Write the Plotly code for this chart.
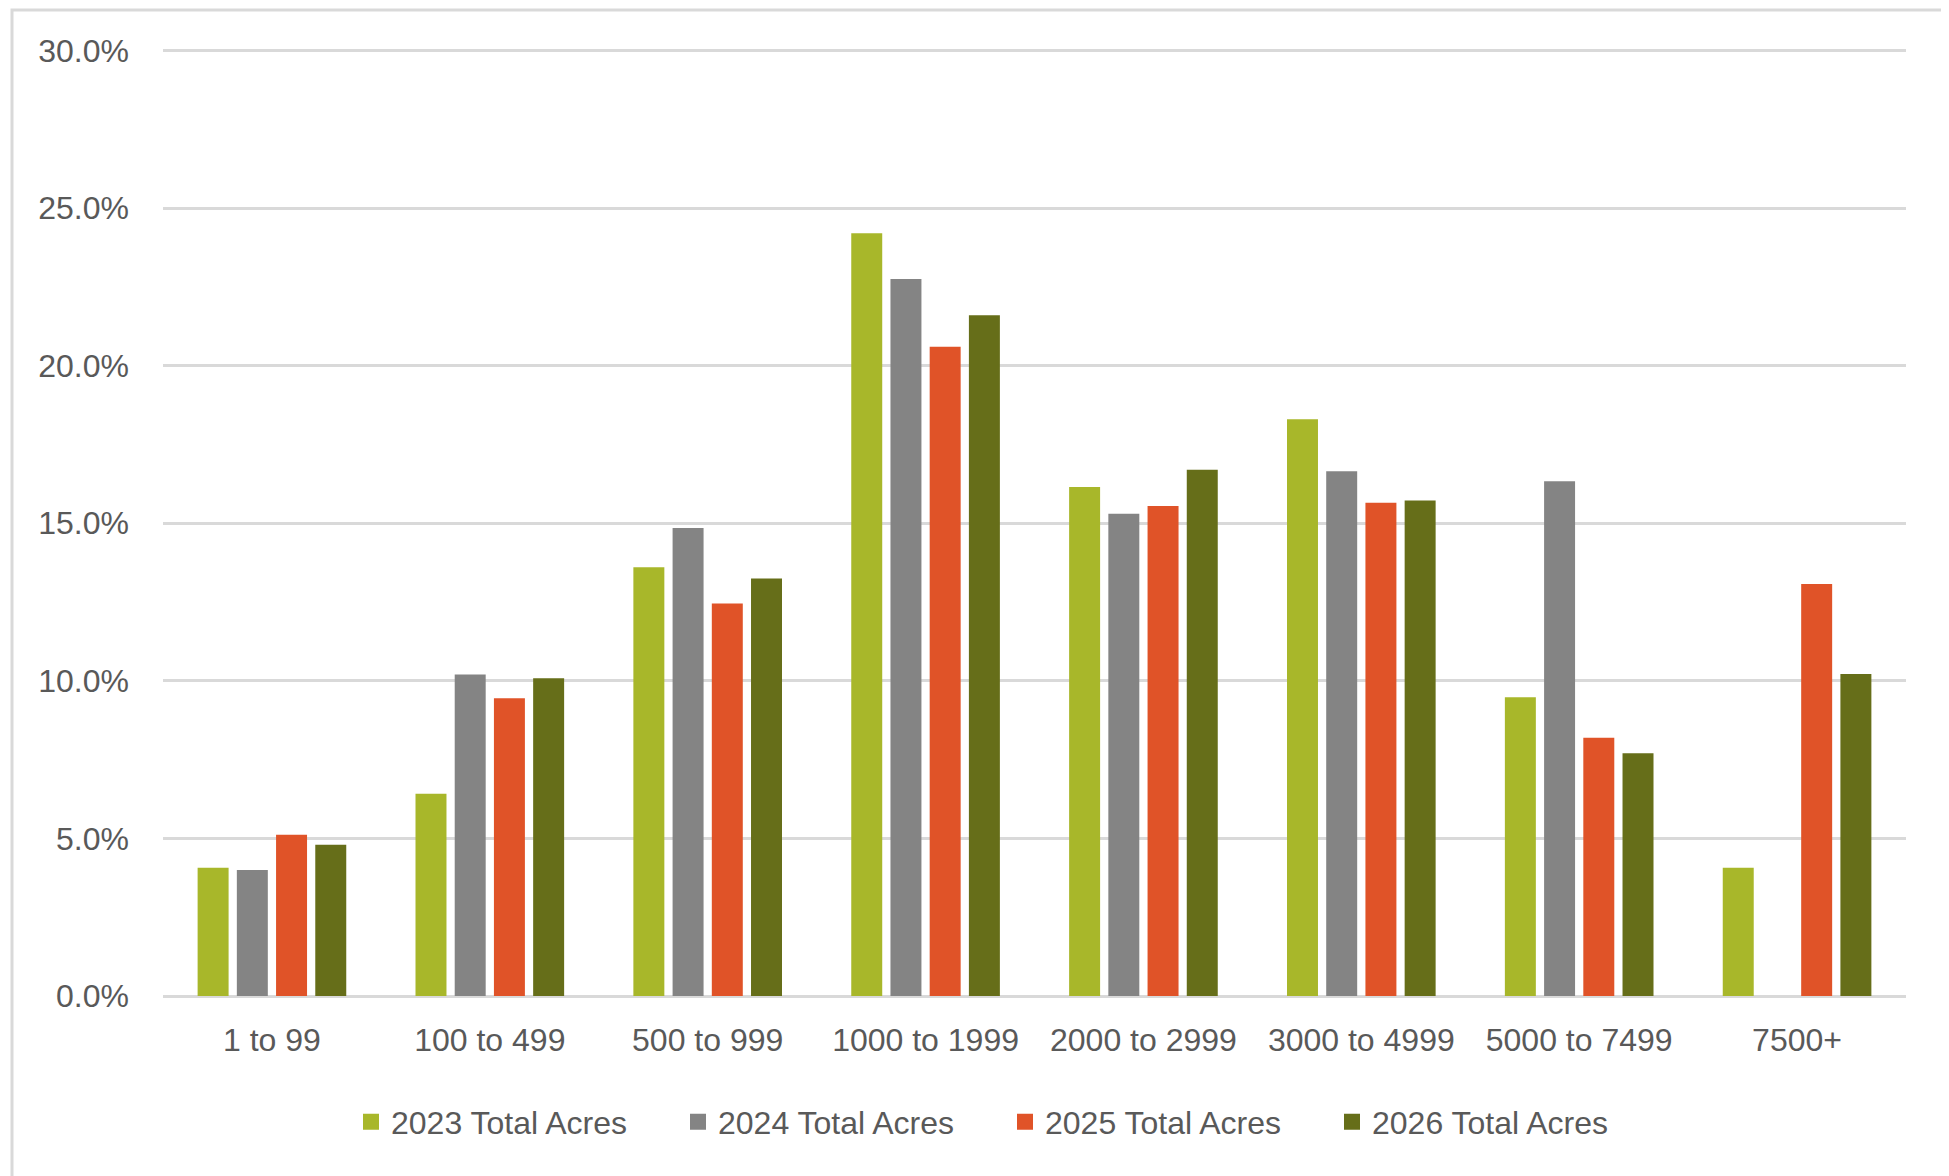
import plotly.graph_objects as go

categories = ["1 to 99", "100 to 499", "500 to 999", "1000 to 1999",
              "2000 to 2999", "3000 to 4999", "5000 to 7499", "7500+"]
series_names = ["2023 Total Acres", "2024 Total Acres", "2025 Total Acres", "2026 Total Acres"]
v2023 = [4.07, 6.42, 13.6, 24.2, 16.15, 18.3, 9.48, 4.07]
v2024 = [4.0, 10.2, 14.85, 22.75, 15.3, 16.65, 16.33, None]
v2025 = [5.12, 9.45, 12.45, 20.6, 15.55, 15.65, 8.19, 13.07]
v2026 = [4.8, 10.08, 13.25, 21.6, 16.7, 15.72, 7.7, 10.22]
colors = ["#A8B72A", "#848484", "#E05328", "#666E19"]
y_ticks = [0, 5, 10, 15, 20, 25, 30]
y_labels = [f"{v:.1f}%" for v in y_ticks]
y_max = 30.3  # slightly above the top tick so its gridline is drawn

O = 8  # default page body margin
W, H = 1949 - O, 1176 - O
PL, PR, PB = 163, 1906, 996          # plot area in page pixels
TOP30 = 50                            # page y of the 30% gridline
PT = PB - (PB - TOP30) * y_max / 30.0
L, T = PL - O, PT - O
R = W - (PR - O)
B = H - (PB - O)
pw, ph = PR - PL, PB - PT

FONT = "Liberation Sans, Arial, sans-serif"
TXT = "#595959"
FS = 32

fig = go.Figure()
for name, vals, col in zip(series_names, [v2023, v2024, v2025, v2026], colors):
    fig.add_trace(go.Bar(x=categories, y=vals, name=name, marker_color=col,
                         marker_line_width=0, showlegend=False))
for name, col in zip(series_names, colors):
    fig.add_trace(go.Scatter(x=[None], y=[None], mode="markers", name=name,
                             marker=dict(symbol="square", size=20, color=col)))

def px_x(p):
    return (p - PL) / pw

def px_y(p):
    return (PB - p) / ph

fig.add_shape(type="rect", xref="paper", yref="paper",
              x0=px_x(12), x1=px_x(1945), y0=px_y(1190), y1=px_y(9.5),
              line=dict(color="#D9D9D9", width=3), fillcolor="rgba(0,0,0,0)", layer="below")

fig.update_layout(
    width=W, height=H,
    margin=dict(l=L, r=R, t=T, b=B),
    paper_bgcolor="white", plot_bgcolor="white",
    font=dict(family=FONT, size=FS, color=TXT),
    barmode="group", bargap=0.28, bargroupgap=0.21,
    showlegend=True,
    legend=dict(orientation="h", x=px_x(1005), xanchor="center",
                y=px_y(1122), yanchor="middle",
                font=dict(size=FS, color=TXT), itemwidth=30,
                entrywidth=282, tracegroupgap=0, itemclick=False),
    xaxis=dict(showgrid=False, showline=False, zeroline=False, ticks="",
               tickfont=dict(size=FS, color=TXT), ticklabelstandoff=22),
    yaxis=dict(range=[0, y_max], tickvals=y_ticks, ticktext=y_labels,
               showgrid=True, gridcolor="#D9D9D9", gridwidth=3,
               zeroline=True, zerolinecolor="#D9D9D9", zerolinewidth=3,
               showline=False, ticks="", tickfont=dict(size=FS, color=TXT),
               ticklabelstandoff=33),
)

fig.write_html("out.html")
